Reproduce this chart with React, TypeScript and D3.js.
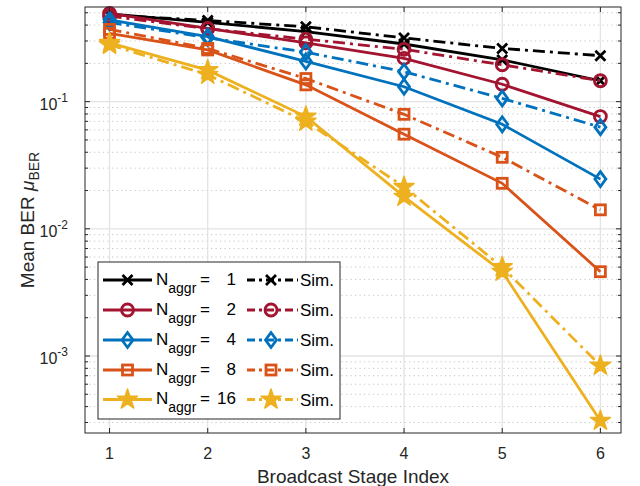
import React from "react";
import * as d3 from "d3";

// broadcast stage index on the x axis
const stages = [1, 2, 3, 4, 5, 6];
const aggrSizes = ["1", "2", "4", "8", "16"];

// mean BER, analytical curves (solid) and simulation (dash-dot)
const theory1 = [0.49, 0.42, 0.355, 0.284, 0.213, 0.146];
const sim1 = [0.48, 0.435, 0.388, 0.317, 0.262, 0.23];
const theory2 = [0.494, 0.377, 0.29, 0.219, 0.137, 0.0763];
const sim2 = [0.47, 0.375, 0.31, 0.258, 0.195, 0.146];
const theory4 = [0.44, 0.325, 0.207, 0.131, 0.0664, 0.0246];
const sim4 = [0.42, 0.318, 0.245, 0.172, 0.106, 0.063];
const theory8 = [0.345, 0.255, 0.1355, 0.0555, 0.0228, 0.0046];
const sim8 = [0.37, 0.262, 0.152, 0.0795, 0.0365, 0.0141];
const theory16 = [0.29, 0.177, 0.0763, 0.0179, 0.0046, 0.00031];
const sim16 = [0.28, 0.163, 0.0697, 0.0214, 0.005, 0.00084];

const colors = ["#000000", "#A2142F", "#0072BD", "#D95319", "#EDB120"];
const markers = ["x", "o", "d", "s", "p"];

const series = [
  { theory: theory1, sim: sim1 },
  { theory: theory2, sim: sim2 },
  { theory: theory4, sim: sim4 },
  { theory: theory8, sim: sim8 },
  { theory: theory16, sim: sim16 },
];

const FONT = "'Liberation Sans', Arial, Helvetica, sans-serif";
const W = 640, H = 486;
const left = 85, right = 621, top = 7, bottom = 433;
const DASH = "12,5,3,5";
const LW = 2.8;

const xs = d3.scaleLinear().domain([0.75, 6.21]).range([left, right]);
const ys = d3.scaleLog().domain([2.48e-4, 0.555]).range([bottom, top]);

const starPath = d3.symbol(d3.symbolStar, 125)() as string;

function Marker({ kind, cx, cy, color }: { kind: string; cx: number; cy: number; color: string }) {
  const t = `translate(${cx},${cy})`;
  if (kind === "x")
    return <path transform={t} d="M-5,-5L5,5M-5,5L5,-5" stroke={color} strokeWidth={LW} fill="none" />;
  if (kind === "o")
    return <circle cx={cx} cy={cy} r={6} stroke={color} strokeWidth={LW} fill="none" />;
  if (kind === "d")
    return <path transform={t} d="M0,-7.5L5.5,0L0,7.5L-5.5,0Z" stroke={color} strokeWidth={LW} fill="none" />;
  if (kind === "s")
    return <rect x={cx - 5} y={cy - 5} width={10} height={10} stroke={color} strokeWidth={LW} fill="none" />;
  return <path transform={t} d={starPath} stroke={color} strokeWidth={1.5} strokeLinejoin="round" fill={color} />;
}

export default function App() {
  const line = d3.line<number>().x((_, i) => xs(stages[i])).y((d) => ys(d));

  const majorY = [1e-3, 1e-2, 1e-1];
  const minorY: number[] = [];
  for (let e = -4; e <= -1; e++)
    for (let m = 2; m <= 9; m++) {
      const v = m * Math.pow(10, e);
      if (v >= ys.domain()[0] && v <= ys.domain()[1]) minorY.push(v);
    }

  const rowY = [280, 310, 340, 370, 399.5];

  return (
    <div style={{ position: "absolute", left: 0, top: 0 }}>
      <svg width={W} height={H} style={{ display: "block", fontFamily: FONT }}>
        <rect x={0} y={0} width={W} height={H} fill="#ffffff" />

        {/* grid */}
        {minorY.map((v) => (
          <line key={"mg" + v} x1={left} x2={right} y1={ys(v)} y2={ys(v)} stroke="#c4c4c4" strokeWidth={1} strokeDasharray="1.2,3.3" />
        ))}
        {majorY.map((v) => (
          <line key={"g" + v} x1={left} x2={right} y1={ys(v)} y2={ys(v)} stroke="#e3e3e3" strokeWidth={1.3} />
        ))}
        {stages.map((s) => (
          <line key={"gx" + s} x1={xs(s)} x2={xs(s)} y1={top} y2={bottom} stroke="#e3e3e3" strokeWidth={1.3} />
        ))}

        {/* curves */}
        {series.map((s, k) => (
          <g key={"s" + k}>
            <path d={line(s.theory) as string} stroke={colors[k]} strokeWidth={LW} fill="none" />
            {s.theory.map((v, i) => (
              <Marker key={"t" + i} kind={markers[k]} cx={xs(stages[i])} cy={ys(v)} color={colors[k]} />
            ))}
            <path d={line(s.sim) as string} stroke={colors[k]} strokeWidth={LW} fill="none" strokeDasharray={DASH} />
            {s.sim.map((v, i) => (
              <Marker key={"m" + i} kind={markers[k]} cx={xs(stages[i])} cy={ys(v)} color={colors[k]} />
            ))}
          </g>
        ))}

        {/* axes box and ticks */}
        <rect x={left} y={top} width={right - left} height={bottom - top} fill="none" stroke="#262626" strokeWidth={1} />
        {stages.map((s) => (
          <g key={"tx" + s}>
            <line x1={xs(s)} x2={xs(s)} y1={bottom} y2={bottom - 5} stroke="#262626" />
            <line x1={xs(s)} x2={xs(s)} y1={top} y2={top + 5} stroke="#262626" />
            <text x={xs(s)} y={459} textAnchor="middle" fontSize={16} fill="#262626">{s}</text>
          </g>
        ))}
        {majorY.map((v) => (
          <g key={"ty" + v}>
            <line x1={left} x2={left + 5} y1={ys(v)} y2={ys(v)} stroke="#262626" />
            <line x1={right} x2={right - 5} y1={ys(v)} y2={ys(v)} stroke="#262626" />
            <text x={68} y={ys(v) + 8} textAnchor="end" fontSize={16} fill="#262626">
              10<tspan dy={-8} fontSize={12}>{"-" + Math.round(-Math.log10(v))}</tspan>
            </text>
          </g>
        ))}
        {minorY.map((v) => (
          <g key={"mt" + v}>
            <line x1={left} x2={left + 3} y1={ys(v)} y2={ys(v)} stroke="#262626" />
            <line x1={right} x2={right - 3} y1={ys(v)} y2={ys(v)} stroke="#262626" />
          </g>
        ))}

        {/* axis labels */}
        <text x={(left + right) / 2} y={483} textAnchor="middle" fontSize={19} fill="#262626">Broadcast Stage Index</text>
        <text transform={`translate(34,${(top + bottom) / 2}) rotate(-90)`} textAnchor="middle" fontSize={19} fill="#262626">
          Mean BER <tspan fontStyle="italic">μ</tspan><tspan dy={5} fontSize={14}>BER</tspan>
        </text>

        {/* legend */}
        <rect x={98} y={262} width={242} height={157} fill="#ffffff" stroke="#262626" strokeWidth={1} />
        {aggrSizes.map((n, k) => (
          <g key={"lg" + k}>
            <line x1={103} x2={152} y1={rowY[k]} y2={rowY[k]} stroke={colors[k]} strokeWidth={LW} />
            <Marker kind={markers[k]} cx={127.5} cy={rowY[k]} color={colors[k]} />
            <text x={156} y={rowY[k] + 4.5} fontSize={17} fill="#000">
              N<tspan dy={8} fontSize={14}>aggr</tspan>
            </text>
            <text x={200} y={rowY[k] + 4.5} fontSize={17} fill="#000">=</text>
            <text x={236} y={rowY[k] + 4.5} fontSize={17} textAnchor="end" fill="#000">{n}</text>
            <line x1={247} x2={298} y1={rowY[k]} y2={rowY[k]} stroke={colors[k]} strokeWidth={LW} strokeDasharray="8,4,3,4" />
            <Marker kind={markers[k]} cx={271} cy={rowY[k]} color={colors[k]} />
            <text x={300} y={rowY[k] + 6} fontSize={17} fill="#000">Sim.</text>
          </g>
        ))}
      </svg>
    </div>
  );
}
